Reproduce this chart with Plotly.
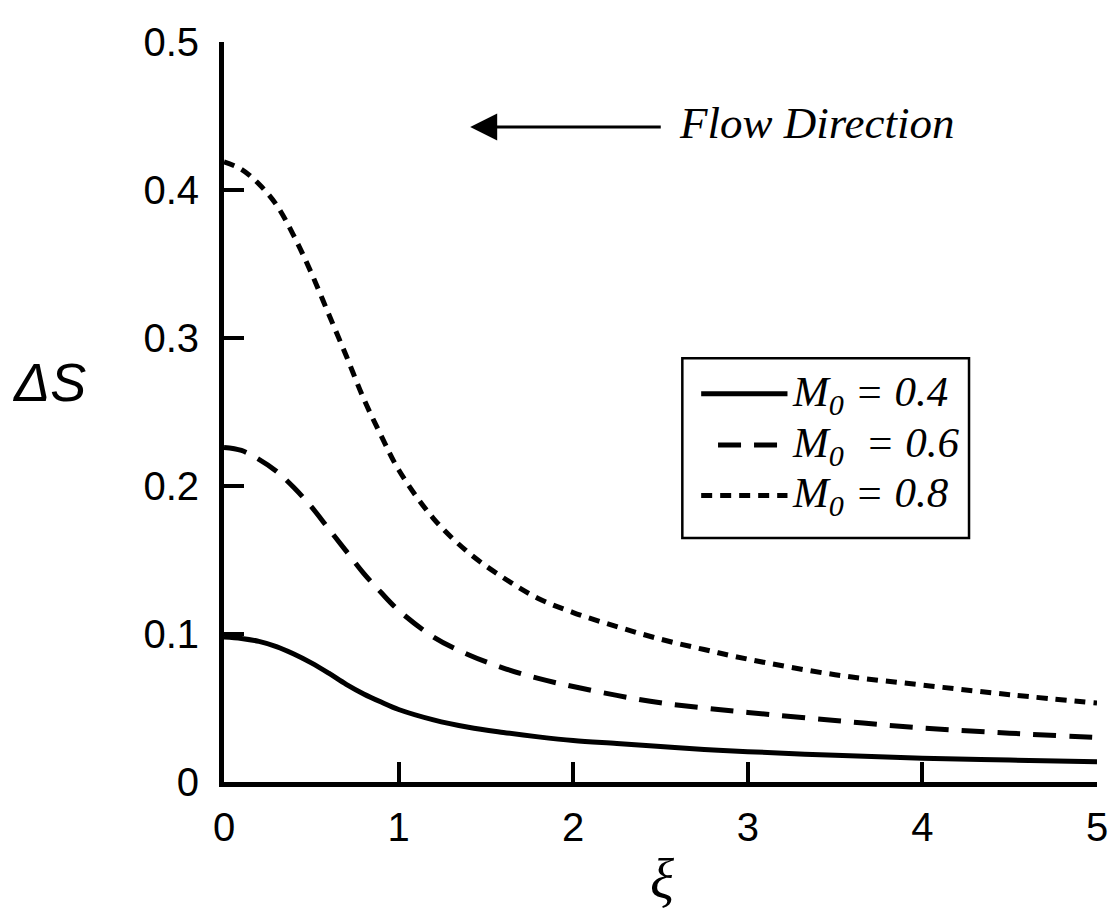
import plotly.graph_objects as go

# ---- data ----
xi = [0, 0.1, 0.2, 0.3, 0.4, 0.5, 0.6, 0.7, 0.8, 0.9, 1.0, 1.2, 1.4, 1.6, 1.8,
      2.0, 2.25, 2.5, 2.75, 3.0, 3.5, 4.0, 4.5, 5.0]
ds_m04 = [0.098, 0.097, 0.095, 0.0915, 0.0865, 0.0805, 0.0735, 0.066, 0.0595, 0.054,
          0.049, 0.042, 0.037, 0.0335, 0.0305, 0.028, 0.026, 0.024, 0.022, 0.0205,
          0.018, 0.016, 0.0148, 0.0136]
ds_m06 = [0.226, 0.224, 0.218, 0.210, 0.199, 0.186, 0.171, 0.156, 0.141, 0.128,
          0.116, 0.098, 0.086, 0.077, 0.070, 0.0645, 0.0585, 0.0535, 0.050, 0.047,
          0.0415, 0.0365, 0.033, 0.030]
ds_m08 = [0.419, 0.414, 0.404, 0.390, 0.369, 0.344, 0.316, 0.288, 0.259, 0.234,
          0.211, 0.178, 0.155, 0.138, 0.124, 0.1145, 0.105, 0.0965, 0.0895, 0.083,
          0.0725, 0.0655, 0.059, 0.0533]
series_labels = ["<i>M<sub>0</sub> = 0.4</i>",
                 "<i>M<sub>0</sub>&nbsp; = 0.6</i>",
                 "<i>M<sub>0</sub> = 0.8</i>"]
x_ticks = [0, 1, 2, 3, 4, 5]
y_ticks = [0, 0.1, 0.2, 0.3, 0.4, 0.5]
y_tick_text = ["0", "0.1", "0.2", "0.3", "0.4", "0.5"]

dashes = ["solid", "23px,13px", "11px,8px"]
LW = 5

fig = go.Figure()
for ys, name, dash in zip([ds_m04, ds_m06, ds_m08], series_labels, dashes):
    fig.add_trace(go.Scatter(x=xi, y=ys, mode="lines", name=name,
                             line=dict(color="black", width=LW, dash=dash,
                                       shape="spline", smoothing=1.0),
                             showlegend=False))

axis_common = dict(showgrid=False, zeroline=False, showline=True,
                   linecolor="black", linewidth=5, ticks="inside",
                   ticklen=20, tickwidth=4, tickcolor="black",
                   ticklabeloverflow="allow",
                   tickfont=dict(family="Liberation Sans, Arial", size=40,
                                 color="black"))

# the page body adds an 8px offset, so the figure is sized/margined accordingly
fig.update_layout(
    width=1112, height=910,
    margin=dict(l=216, r=16, t=25, b=136),
    paper_bgcolor="white", plot_bgcolor="white",
    xaxis=dict(range=[0, 5], tickvals=x_ticks,
               ticktext=[str(v) for v in x_ticks], ticklabelstandoff=6,
               **axis_common),
    yaxis=dict(range=[0, 0.5], tickvals=y_ticks, ticktext=y_tick_text,
               ticklabelstandoff=12, **axis_common),
)

# axis titles
fig.add_annotation(xref="paper", yref="paper", x=-0.20, y=0.54,
                   text="<i>ΔS</i>", showarrow=False, xanchor="center",
                   yanchor="middle",
                   font=dict(family="Liberation Sans, Arial", size=54,
                             color="black"))
fig.add_annotation(xref="paper", yref="paper", x=0.502, y=-0.131,
                   text="<i>ξ</i>", showarrow=False, xanchor="center",
                   yanchor="middle",
                   font=dict(family="Liberation Serif, Times New Roman",
                             size=56, color="black"))

# flow direction arrow + label
fig.add_annotation(x=1.41, y=0.4426, ax=2.51, ay=0.4426,
                   xref="x", yref="y", axref="x", ayref="y",
                   text="", showarrow=True, arrowhead=2, arrowsize=1.8,
                   arrowwidth=3, arrowcolor="black")
fig.add_annotation(xref="paper", yref="paper", x=(681 - 224) / 880,
                   y=(782 - 115) / 749, text="<i>Flow Direction</i>",
                   showarrow=False, xanchor="left", yanchor="middle",
                   font=dict(family="Liberation Serif, Times New Roman",
                             size=45, color="black"))

# custom legend box
def px_x(p):
    return (p - 224) / 880


def px_y(p):
    return (782 - p) / 749


fig.add_shape(type="rect", xref="paper", yref="paper",
              x0=px_x(686), x1=px_x(975), y0=px_y(535), y1=px_y(353),
              line=dict(color="black", width=2.5), fillcolor="white",
              layer="above")
rows = [389, 441, 492]
starts = [705, 722, 705]
for r, s, name, dash in zip(rows, starts, series_labels, dashes):
    fig.add_shape(type="line", xref="paper", yref="paper",
                  x0=px_x(s), x1=px_x(792), y0=px_y(r), y1=px_y(r),
                  line=dict(color="black", width=LW, dash=dash),
                  layer="above")
    fig.add_annotation(xref="paper", yref="paper", x=px_x(795), y=px_y(r + 1),
                       text=name, showarrow=False, xanchor="left",
                       yanchor="middle",
                       font=dict(family="Liberation Serif, Times New Roman",
                                 size=43, color="black"))

fig.write_html("out.html")
